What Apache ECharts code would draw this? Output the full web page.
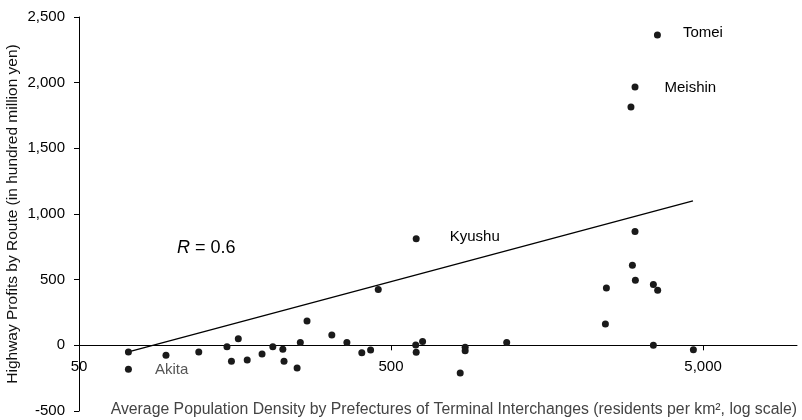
<!DOCTYPE html>
<html><head><meta charset="utf-8">
<script src="https://cdn.jsdelivr.net/npm/echarts@6/dist/echarts.min.js"></script>
<style>html,body{margin:0;padding:0;background:#fff}#c{width:802px;height:420px}</style>
</head><body><div id="c"></div>
<script>
// Average population density (residents per km2) of terminal interchange prefectures
const density = [72, 72, 95, 121, 149, 162, 154, 173, 193, 209, 225, 227, 250, 256, 269, 323, 361, 403, 430, 455,
  602, 600, 602, 631, 864, 864, 833, 1174, 2432, 2450, 2968, 3034, 3026, 3465, 3577, 3465, 4655, 3570, 3026, 2937];
// Highway profits by route (hundred million yen)
const profit = [-50, -183, -76, -51, -10, 51, -122, -112, -66, -10, -30, -122, -173, 21, 185, 78, 21, -56, -36, 426,
  812, 3, -53, 30, -15, -42, -211, 21, 162, 436, 609, 495, 866, 464, 419, 0, -33, 2363, 1967, 1814];
const routeNames = ['', 'Akita', '', '', '', '', '', '', '', '', '', '', '', '', '', '', '', '', '', '',
  'Kyushu', '', '', '', '', '', '', '', '', '', '', '', '', '', '', '', '', 'Tomei', 'Meishin', ''];
// regression line end points
const trendX = [72, 4640];
const trendY = [-50, 1100];
const xTicks = [50, 500, 5000];
const yMin = -500, yMax = 2500, yStep = 500;

const FONT = '"Liberation Sans", Arial, sans-serif';
const GRID = { left: 79, right: 5, top: 17, bottom: 9 };
const plotH = 420 - GRID.top - GRID.bottom;
// shift the x axis from the bottom edge up to the zero line
const xAxisOffset = -plotH * (0 - yMin) / (yMax - yMin);

const labelStyle = {
  Tomei:   { distance: 22, offset: [0, -2], color: '#000' },
  Meishin: { distance: 26, offset: [0, 1],  color: '#000' },
  Kyushu:  { distance: 30, offset: [0, -2], color: '#000' },
  Akita:   { distance: 23, offset: [0, 0],  color: '#555' }
};

const scatterData = density.map((d, i) => {
  const item = { value: [d, profit[i]] };
  const nm = routeNames[i];
  if (nm) {
    const s = labelStyle[nm];
    item.label = { show: true, position: 'right', formatter: nm, distance: s.distance, offset: s.offset,
      color: s.color, fontSize: 15, fontFamily: FONT };
  }
  return item;
});
const trendData = trendX.map((x, i) => [x, trendY[i]]);

const fmt = v => Number(v).toLocaleString('en-US');

const chart = echarts.init(document.getElementById('c'), null, { renderer: 'canvas' });
chart.setOption({
  animation: false,
  backgroundColor: '#fff',
  grid: Object.assign({ containLabel: false, outerBoundsMode: 'none' }, GRID),
  xAxis: {
    type: 'log', logBase: 10, min: 50, max: 10000, offset: xAxisOffset,
    axisLine: { show: true, onZero: false, lineStyle: { color: '#000', width: 1 } },
    axisTick: { show: true, length: 5, customValues: xTicks, lineStyle: { color: '#000' } },
    axisLabel: { show: true, customValues: xTicks, formatter: fmt, fontSize: 15, color: '#000', fontFamily: FONT, margin: 14 },
    splitLine: { show: false }, minorTick: { show: false }, minorSplitLine: { show: false }
  },
  yAxis: {
    type: 'value', min: yMin, max: yMax, interval: yStep,
    axisLine: { show: true, onZero: false, lineStyle: { color: '#000', width: 1 } },
    axisTick: { show: true, length: 5, lineStyle: { color: '#000' } },
    axisLabel: { formatter: fmt, fontSize: 15, color: '#000', fontFamily: FONT, margin: 14 },
    splitLine: { show: false }
  },
  series: [
    { type: 'line', data: trendData, symbol: 'none', lineStyle: { color: '#000', width: 1.3 }, z: 2, silent: true },
    { type: 'scatter', data: scatterData, symbolSize: 7, itemStyle: { color: '#1a1a1a', opacity: 1 }, z: 3 }
  ],
  graphic: [
    { type: 'text', x: 13, y: 214, rotation: Math.PI / 2,
      style: { text: 'Highway Profits by Route (in hundred million yen)', fontSize: 15.5, fontFamily: FONT,
        fill: '#111', textAlign: 'center', textVerticalAlign: 'middle' } },
    { type: 'text', x: 797, y: 410,
      style: { text: 'Average Population Density by Prefectures of Terminal Interchanges (residents per km\u00B2, log scale)',
        fontSize: 15.8, fontFamily: FONT, fill: '#444', textAlign: 'right', textVerticalAlign: 'middle' } },
    { type: 'text', x: 177, y: 248,
      style: { text: '{i|R} = 0.6', fontSize: 18, fontFamily: FONT, fill: '#000', textAlign: 'left', textVerticalAlign: 'middle',
        rich: { i: { fontStyle: 'italic', fontSize: 18, fontFamily: FONT, fill: '#000' } } } }
  ]
});
</script></body></html>
